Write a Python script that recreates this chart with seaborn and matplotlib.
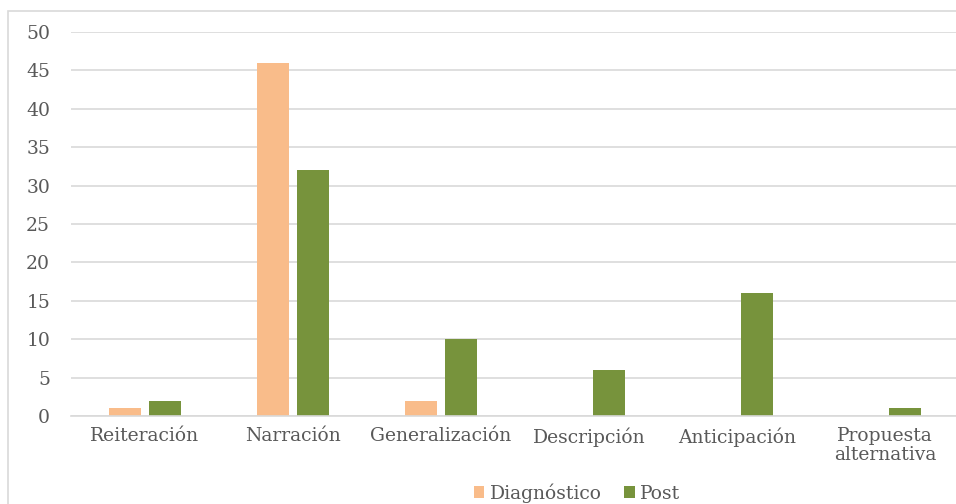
import matplotlib
matplotlib.use("Agg")
import matplotlib.pyplot as plt
from matplotlib.patches import Rectangle
import seaborn as sns
import pandas as pd

categories = ["Reiteración", "Narración", "Generalización", "Descripción",
              "Anticipación", "Propuesta\nalternativa"]
diagnostico = [1, 46, 2, 0, 0, 0]
post = [2, 32, 10, 6, 16, 1]
series_names = ["Diagnóstico", "Post"]
y_ticks = [0, 5, 10, 15, 20, 25, 30, 35, 40, 45, 50]

df = pd.DataFrame({
    "categoria": categories * 2,
    "serie": [series_names[0]] * len(categories) + [series_names[1]] * len(categories),
    "valor": diagnostico + post,
})

sns.set_theme(style="white")
plt.rcParams["font.family"] = ["DejaVu Serif"]

text_color = "#595959"
grid_color = "#D9D9D9"
palette = {"Diagnóstico": "#F9BC8A", "Post": "#77933C"}

fig = plt.figure(figsize=(9.56, 5.04), dpi=100)
# light frame around the chart area
fig.patches.append(Rectangle((8 / 956, -0.1), 1.2, 1.1 - 11 / 504,
                             transform=fig.transFigure, fill=False,
                             edgecolor=grid_color, linewidth=1.2, zorder=0))
ax = fig.add_axes([71 / 956, 1 - 416 / 504, 888 / 956, 384 / 504])

sns.barplot(data=df, x="categoria", y="valor", hue="serie", palette=palette,
            width=0.55, gap=0.22, ax=ax, saturation=1, legend=True,
            linewidth=0, edgecolor="none")

ax.set_ylim(0, 50)
ax.set_yticks(y_ticks)
ax.set_xlim(-0.5, len(categories) - 0.5)
ax.yaxis.grid(True, color=grid_color, linewidth=1.2)
ax.set_axisbelow(True)
for side in ["top", "right", "left"]:
    ax.spines[side].set_visible(False)
ax.spines["bottom"].set_color(grid_color)
ax.spines["bottom"].set_linewidth(1.2)
ax.tick_params(axis="both", length=0, colors=text_color, labelsize=13.5)
ax.tick_params(axis="y", pad=15)
ax.tick_params(axis="x", pad=8)
ax.set_xlabel("")
ax.set_ylabel("")
for lbl in ax.get_xticklabels():
    lbl.set_linespacing(1.05)

leg = ax.legend(loc="center", bbox_to_anchor=(577 / 956, 1 - 493 / 504),
                bbox_transform=fig.transFigure, ncol=2, frameon=False,
                fontsize=13.5, handlelength=0.55, handleheight=0.55,
                handletextpad=0.3, columnspacing=1.2, labelcolor=text_color)

fig.savefig("out.png", dpi=100)
